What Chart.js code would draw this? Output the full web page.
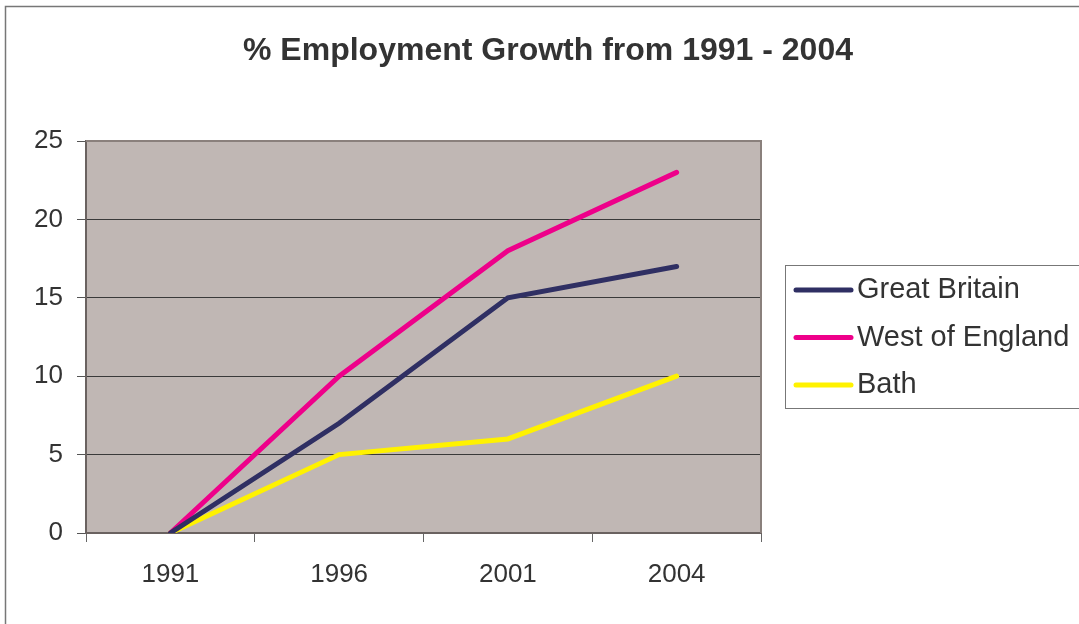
<!DOCTYPE html>
<html lang="en">
<head>
    <meta charset="UTF-8">
    <title>% Employment Growth from 1991 - 2004</title>
    <script src="https://cdn.jsdelivr.net/npm/chart.js"></script>
    <style>
        html, body { margin: 0; padding: 0; background: #fff; overflow: hidden; }
        #wrap { position: relative; width: 1079px; height: 624px; }
    </style>
</head>
<body>
    <div id="wrap">
        <canvas id="growthChart" width="1079" height="624"></canvas>
    </div>

    <script>
        const titleText = '% Employment Growth from 1991 - 2004';
        const years = ['1991', '1996', '2001', '2004'];
        const greatBritain = [0, 7, 15, 17];
        const westOfEngland = [0, 10, 18, 23];
        const bath = [0, 5, 6, 10];
        const yTicks = [0, 5, 10, 15, 20, 25];

        const FONT = '"Liberation Sans", Arial, sans-serif';

        // grey plot background, frame, outer border, title and boxed legend
        const decor = {
            id: 'decor',
            beforeDraw(chart) {
                const { ctx, chartArea: a } = chart;
                ctx.save();
                ctx.fillStyle = '#fff';
                ctx.fillRect(0, 0, chart.width, chart.height);
                ctx.strokeStyle = '#777';
                ctx.lineWidth = 1.5;
                ctx.beginPath();
                ctx.moveTo(5.5, chart.height + 2);
                ctx.lineTo(5.5, 6.5);
                ctx.lineTo(chart.width + 2, 6.5);
                ctx.stroke();
                ctx.fillStyle = '#c0b7b4';
                ctx.fillRect(a.left, a.top, a.right - a.left, a.bottom - a.top);
                ctx.restore();
            },
            beforeDatasetsDraw(chart) {
                const { ctx, chartArea: a } = chart;
                ctx.save();
                ctx.strokeStyle = '#8a807c';
                ctx.lineWidth = 2;
                ctx.beginPath();
                ctx.moveTo(a.left, a.top);
                ctx.lineTo(a.right, a.top);
                ctx.lineTo(a.right, a.bottom);
                ctx.stroke();
                ctx.restore();
            },
            afterDraw(chart) {
                const { ctx } = chart;
                ctx.save();
                ctx.fillStyle = '#333';
                ctx.font = 'bold 32px ' + FONT;
                ctx.textAlign = 'center';
                ctx.textBaseline = 'middle';
                ctx.fillText(titleText, 548, 51);

                // legend
                ctx.strokeStyle = '#777';
                ctx.lineWidth = 1;
                ctx.strokeRect(785.5, 265.5, 320, 143);
                ctx.font = '29px ' + FONT;
                ctx.textAlign = 'left';
                chart.data.datasets.forEach((ds, i) => {
                    const y = 290 + i * 47.5;
                    ctx.strokeStyle = ds.borderColor;
                    ctx.lineWidth = 5;
                    ctx.lineCap = 'round';
                    ctx.beginPath();
                    ctx.moveTo(796, y);
                    ctx.lineTo(851, y);
                    ctx.stroke();
                    ctx.fillStyle = '#333';
                    ctx.fillText(ds.label, 857, y);
                });
                ctx.restore();
            }
        };

        const ctx = document.getElementById('growthChart').getContext('2d');
        new Chart(ctx, {
            type: 'line',
            data: {
                labels: years,
                datasets: [
                    { label: 'Great Britain', data: greatBritain, borderColor: '#2f2f63' },
                    { label: 'West of England', data: westOfEngland, borderColor: '#ee008a' },
                    { label: 'Bath', data: bath, borderColor: '#fff200' }
                ].map(ds => Object.assign(ds, {
                    borderWidth: 5,
                    pointRadius: 0,
                    tension: 0,
                    fill: false,
                    borderCapStyle: 'round',
                    borderJoinStyle: 'miter'
                }))
            },
            options: {
                responsive: false,
                animation: false,
                layout: { padding: { left: 0, top: 141, right: 1079 - 761, bottom: 0 } },
                plugins: {
                    legend: { display: false },
                    title: { display: false },
                    tooltip: { enabled: false }
                },
                scales: {
                    x: {
                        offset: true,
                        grid: {
                            offset: true,
                            drawOnChartArea: false,
                            drawTicks: true,
                            tickLength: 9,
                            color: '#666'
                        },
                        border: { color: '#6a6260', width: 2 },
                        ticks: {
                            color: '#333',
                            font: { family: FONT, size: 26 },
                            padding: 17
                        },
                        afterFit(scale) { scale.height = 624 - 533; }
                    },
                    y: {
                        min: 0,
                        max: 25,
                        afterBuildTicks(scale) { scale.ticks = yTicks.map(v => ({ value: v })); },
                        grid: {
                            color: '#3a3a3a',
                            lineWidth: 1,
                            drawTicks: true,
                            tickLength: 9,
                            tickColor: '#555'
                        },
                        border: { color: '#6a6260', width: 2 },
                        ticks: {
                            color: '#333',
                            font: { family: FONT, size: 26 },
                            padding: 14
                        },
                        afterFit(scale) { scale.width = 86; }
                    }
                }
            },
            plugins: [decor]
        });
    </script>
</body>
</html>
